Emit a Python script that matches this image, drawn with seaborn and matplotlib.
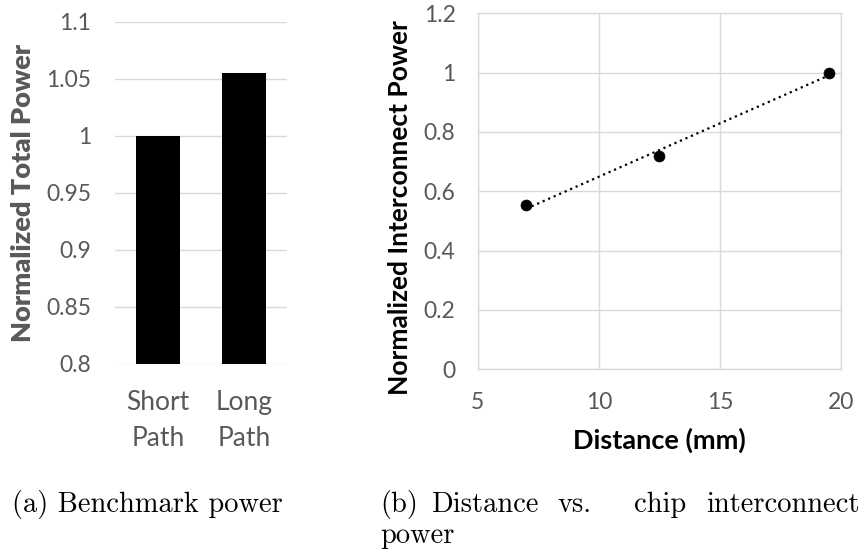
import matplotlib
matplotlib.use("Agg")
import matplotlib.pyplot as plt
import seaborn as sns
import pandas as pd

# Benchmark power by routing path
path_labels = ["Short\nPath", "Long\nPath"]
total_power = [1.0, 1.055]

# Chip interconnect power against wire distance
distance_mm = [7.0, 12.5, 19.5]
interconnect_power = [0.553, 0.718, 1.0]

bar_ticks = [0.8, 0.85, 0.9, 0.95, 1.0, 1.05, 1.1]
bar_tick_text = ["0.8", "0.85", "0.9", "0.95", "1", "1.05", "1.1"]
dist_ticks = [5, 10, 15, 20]
pow_ticks = [0, 0.2, 0.4, 0.6, 0.8, 1.0, 1.2]
pow_tick_text = ["0", "0.2", "0.4", "0.6", "0.8", "1", "1.2"]

sns.set_theme(style="white")
plt.rcParams["font.family"] = ["Lato", "DejaVu Sans"]

GRID = "#d9d9d9"
TICK = "#595959"
TICK_SIZE = 16.5
LABEL_SIZE = 19.5

fig = plt.figure(figsize=(8.65, 5.54), dpi=100)
ax1 = fig.add_axes([0.1329, 0.3430, 0.1988, 0.6173])
ax2 = fig.add_axes([0.5523, 0.3334, 0.4200, 0.6426])

# (a) bar chart
bars = pd.DataFrame({"path": path_labels, "power": total_power})
sns.barplot(data=bars, x="path", y="power", color="black", width=0.51,
            saturation=1, ax=ax1, zorder=3)
for p in ax1.patches:
    p.set_edgecolor("none")
ax1.set_xlim(-0.5, 1.5)
ax1.set_ylim(0.8, 1.1)
ax1.set_yticks(bar_ticks)
ax1.set_yticklabels(bar_tick_text)
ax1.grid(axis="y", color=GRID, lw=1.0, zorder=0)
ax1.grid(axis="x", visible=False)
for s in ax1.spines.values():
    s.set_visible(False)
ax1.tick_params(axis="y", length=0, pad=17, labelsize=TICK_SIZE,
                labelcolor=TICK)
ax1.tick_params(axis="x", length=0, pad=19, labelsize=19, labelcolor=TICK)
for t in ax1.get_xticklabels():
    t.set_linespacing(1.55)
ax1.set_xlabel("")
ax1.set_ylabel("Normalized Total Power", fontsize=LABEL_SIZE,
               fontweight="heavy", color=TICK, va="center")
ax1.yaxis.set_label_coords(-0.532, 0.501)

# (b) scatter with linear trend
pts = pd.DataFrame({"distance": distance_mm, "power": interconnect_power})
sns.regplot(data=pts, x="distance", y="power", ci=None, scatter=False,
            truncate=True, ax=ax2,
            line_kws=dict(color="black", lw=1.6, linestyle=(0, (1, 1.7)),
                          zorder=3))
sns.scatterplot(data=pts, x="distance", y="power", color="black", s=62,
                edgecolor="black", linewidth=0.5, ax=ax2, zorder=4)
ax2.set_xlim(5, 20)
ax2.set_ylim(0, 1.2)
ax2.set_xticks(dist_ticks)
ax2.set_yticks(pow_ticks)
ax2.set_yticklabels(pow_tick_text)
ax2.grid(True, color=GRID, lw=1.0, zorder=0)
for s in ax2.spines.values():
    s.set_visible(True)
    s.set_color(GRID)
    s.set_linewidth(1.0)
ax2.tick_params(axis="both", length=0, pad=16, labelsize=TICK_SIZE,
                labelcolor=TICK)
ax2.set_xlabel("Distance (mm)", fontsize=LABEL_SIZE, fontweight="bold",
               color="black", va="center")
ax2.xaxis.set_label_coords(0.499, -0.199)
ax2.set_ylabel("Normalized Interconnect Power", fontsize=19,
               fontweight="bold", color="black", va="center")
ax2.yaxis.set_label_coords(-0.214, 0.455)

# Sub-figure captions
cap = dict(family="cmr10", fontsize=20.5, color="black", va="baseline",
           ha="left")
y1 = 1 - 512 / 554
y2 = 1 - 543 / 554
fig.text(12 / 865, y1, "(a) Benchmark power", **cap)
for x, word in [(380, "(b)"), (431, "Distance"), (558, "vs."),
                (634, "chip"), (706, "interconnect")]:
    fig.text(x / 865, y1, word, **cap)
fig.text(380 / 865, y2, "power", **cap)

fig.savefig("out.png", dpi=100)
